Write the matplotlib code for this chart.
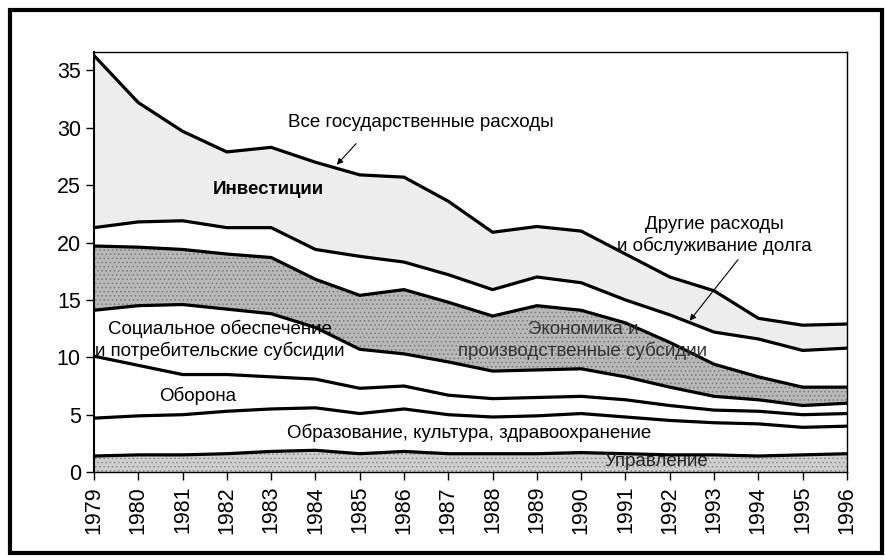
import numpy as np
import matplotlib
matplotlib.use("Agg")
import matplotlib.pyplot as plt
from matplotlib.patches import Rectangle

plt.rcParams['font.family'] = ['Liberation Sans', 'DejaVu Sans']
plt.rcParams['hatch.linewidth'] = 0.6

years = list(range(1979, 1997))
# shares of each expenditure item (bottom to top), % of GDP
upravlenie = [1.4, 1.5, 1.5, 1.6, 1.8, 1.9, 1.6, 1.8, 1.6, 1.6, 1.6, 1.7, 1.6, 1.5, 1.5, 1.4, 1.5, 1.6]
obrazovanie = [3.3, 3.4, 3.5, 3.7, 3.7, 3.7, 3.5, 3.7, 3.4, 3.2, 3.3, 3.4, 3.2, 3.0, 2.8, 2.8, 2.4, 2.4]
oborona = [5.4, 4.4, 3.5, 3.2, 2.8, 2.5, 2.2, 2.0, 1.7, 1.6, 1.6, 1.5, 1.5, 1.3, 1.1, 1.1, 1.1, 1.1]
social = [4.0, 5.2, 6.1, 5.7, 5.5, 4.5, 3.4, 2.8, 2.9, 2.4, 2.4, 2.4, 2.0, 1.6, 1.2, 1.0, 0.8, 0.9]
ekonomika = [5.6, 5.1, 4.8, 4.8, 4.9, 4.2, 4.7, 5.6, 5.2, 4.8, 5.6, 5.1, 4.7, 3.9, 2.8, 2.0, 1.6, 1.4]
drugie = [1.6, 2.2, 2.5, 2.3, 2.6, 2.6, 3.4, 2.4, 2.4, 2.3, 2.5, 2.4, 2.0, 2.4, 2.8, 3.3, 3.2, 3.4]
investicii = [15.0, 10.4, 7.8, 6.6, 7.0, 7.6, 7.1, 7.4, 6.4, 5.0, 4.4, 4.5, 4.0, 3.3, 3.6, 1.8, 2.2, 2.1]

layers = [upravlenie, obrazovanie, oborona, social, ekonomika, drugie, investicii]
fills = ['#cfcfcf', 'white', 'white', 'white', '#b8b8b8', 'white', '#ededed']
hatches = ['....', None, None, None, '....', None, None]
hatch_cols = ['#8a8a8a', None, None, None, '#7a7a7a', None, None]

fig = plt.figure(figsize=(8.85, 5.6), dpi=100)
ax = fig.add_axes([0.1062, 0.157, 0.8508, 0.75])

polys = ax.stackplot(years, *layers, colors=fills, linewidth=0)
for p, h, hc in zip(polys, hatches, hatch_cols):
    if h:
        p.set_hatch(h)
        p.set_edgecolor(hc)

tops = np.cumsum(np.array(layers), axis=0)
for row in tops:
    ax.plot(years, row, color='black', lw=2.3, solid_joinstyle='miter')

ax.set_xlim(1979, 1996)
ax.set_ylim(0, 36.6)
ax.set_yticks(range(0, 40, 5))
ax.set_xticks(years)
ax.set_xticklabels([str(y) for y in years], rotation=90)
ax.tick_params(axis='both', direction='out', length=6, width=1, labelsize=15.5, colors='black')
ax.tick_params(axis='x', pad=4)
for s in ax.spines.values():
    s.set_linewidth(1)
ax.spines['left'].set_linewidth(1.5)

# labels
fs = 13.5
ax.text(1983.38, 30.45, 'Все государственные расходы', fontsize=fs, va='center', ha='left')
ax.annotate('', xy=(1984.44, 26.6), xytext=(1984.96, 28.8),
            arrowprops=dict(arrowstyle='-|>', color='black', lw=0.8, mutation_scale=9))
ax.text(1981.69, 24.6, 'Инвестиции', fontsize=fs, fontweight='bold', va='center', ha='left')
ax.text(1993.0, 21.6, 'Другие расходы', fontsize=fs, va='center', ha='center')
ax.text(1993.0, 19.7, 'и обслуживание долга', fontsize=fs, va='center', ha='center')
ax.annotate('', xy=(1992.41, 13.0), xytext=(1993.58, 18.7),
            arrowprops=dict(arrowstyle='-|>', color='black', lw=0.8, mutation_scale=9))
ax.text(1981.84, 12.5, 'Социальное обеспечение', fontsize=fs, va='center', ha='center')
ax.text(1981.84, 10.6, 'и потребительские субсидии', fontsize=fs, va='center', ha='center')
ax.text(1990.04, 12.4, 'Экономика и', fontsize=fs, va='center', ha='center', color='#333333')
ax.text(1990.04, 10.6, 'производственные субсидии', fontsize=fs, va='center', ha='center', color='#333333')
ax.text(1981.35, 6.6, 'Оборона', fontsize=fs, va='center', ha='center')
ax.text(1983.36, 3.4, 'Образование, культура, здравоохранение', fontsize=fs, va='center', ha='left')
ax.text(1990.53, 0.9, 'Управление', fontsize=fs, va='center', ha='left', color='#222222')

# outer frame
fig.patches.append(Rectangle((10 / 885, 1 - 553 / 560), 872 / 885, 543 / 560,
                             transform=fig.transFigure, fill=False, lw=3, edgecolor='black'))

fig.savefig('out.png', dpi=100)
